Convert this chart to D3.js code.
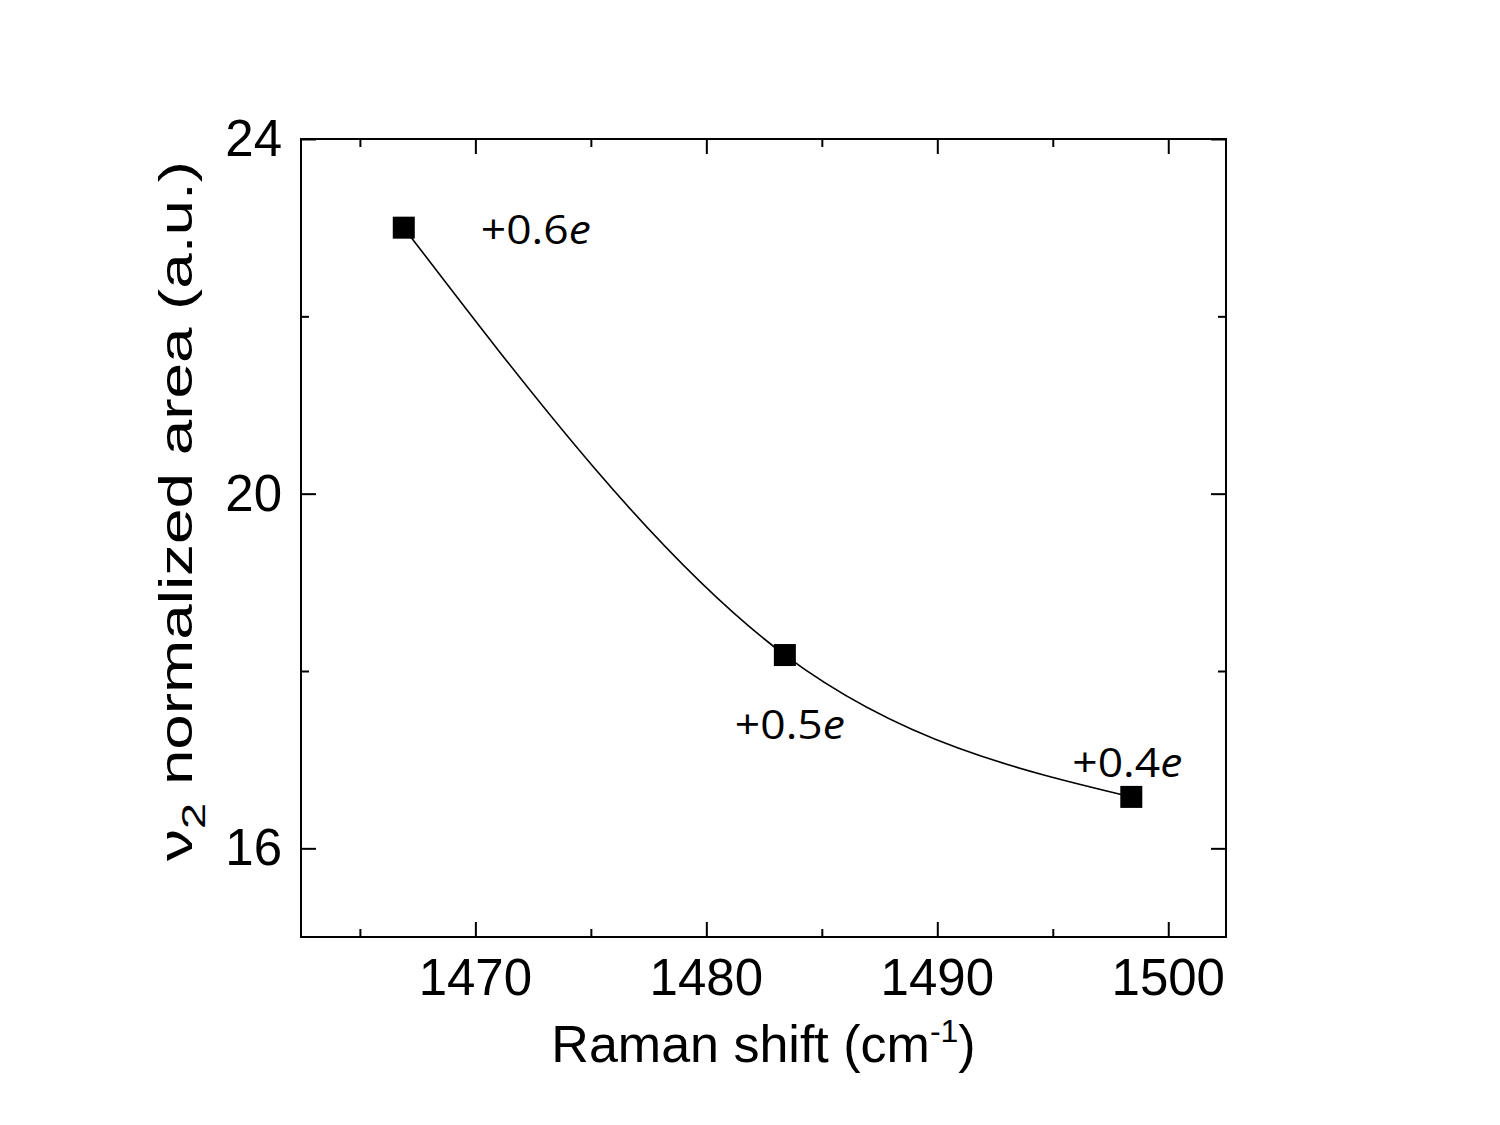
<!DOCTYPE html>
<html>
<head>
<meta charset="utf-8">
<script src="https://cdn.jsdelivr.net/npm/d3@7"></script>
<style>
  body { margin: 0; background: #fff; }
</style>
</head>
<body>
<div id="chart"></div>
<script>
// data
var shift = [1466.9, 1483.4, 1498.4];
var area = [23.0, 18.18, 16.58];
var charge = ["+0.6", "+0.5", "+0.4"];
var xMajor = [1470, 1480, 1490, 1500];
var xMinor = [1465, 1475, 1485, 1495];
var yMajor = [16, 20, 24];
var yMinor = [18, 22];

var margin = {top: 139, right: 274, bottom: 188, left: 301},
    width = 1500 - margin.left - margin.right,
    height = 1125 - margin.top - margin.bottom;

var font = "'Liberation Sans', Arial, sans-serif";

var svg = d3.select("#chart").append("svg")
    .attr("width", 1500)
    .attr("height", 1125)
  .append("g")
    .attr("transform", "translate(" + margin.left + "," + margin.top + ")");

var x = d3.scaleLinear().domain([1462.45, 1502.5]).range([0, width]);
var y = d3.scaleLinear().domain([15, 24]).range([height, 0]);

// inward ticks on all four sides
function side(g, axisFn, scale, major, minor) {
  g.call(axisFn(scale).tickValues(major).tickSize(15).tickFormat(""));
  g.append("g").call(axisFn(scale).tickValues(minor).tickSize(8).tickFormat(""));
  g.selectAll(".domain").remove();
  g.selectAll(".tick line").attr("stroke", "#000").attr("stroke-width", 2);
}

side(svg.append("g").attr("transform", "translate(0," + height + ")"), d3.axisTop, x, xMajor, xMinor);
side(svg.append("g"), d3.axisBottom, x, xMajor, xMinor);
side(svg.append("g"), d3.axisRight, y, yMajor, yMinor);
side(svg.append("g").attr("transform", "translate(" + width + ",0)"), d3.axisLeft, y, yMajor, yMinor);

// tick labels
svg.append("g").selectAll("text").data(xMajor).enter().append("text")
    .attr("x", d => x(d)).attr("y", height + 58)
    .attr("text-anchor", "middle")
    .attr("font-family", font)
    .attr("font-size", 51)
    .attr("fill", "#000")
    .text(d => d);

svg.append("g").selectAll("text").data(yMajor).enter().append("text")
    .attr("x", -19).attr("y", d => y(d) + 17)
    .attr("text-anchor", "end")
    .attr("font-family", font)
    .attr("font-size", 51)
    .attr("fill", "#000")
    .text(d => d);

// frame
svg.append("rect")
    .attr("width", width).attr("height", height)
    .attr("fill", "none").attr("stroke", "#000").attr("stroke-width", 2);

// fit curve
var pts = shift.map((d, i) => [d, area[i]]);
svg.append("path")
    .datum(pts)
    .attr("fill", "none")
    .attr("stroke", "#000")
    .attr("stroke-width", 1.6)
    .attr("d", d3.line().x(d => x(d[0])).y(d => y(d[1])).curve(d3.curveMonotoneX));

// markers
svg.selectAll(".pt").data(pts).enter().append("rect")
    .attr("x", d => x(d[0]) - 11)
    .attr("y", d => y(d[1]) - 11)
    .attr("width", 22).attr("height", 22)
    .attr("fill", "#000");

// charge labels
var lblPos = [[77, 16], [-50, 84], [-59, -20]];
var lbl = svg.selectAll(".chg").data(pts).enter().append("text")
    .attr("x", (d, i) => x(d[0]) + lblPos[i][0])
    .attr("y", (d, i) => y(d[1]) + lblPos[i][1])
    .attr("font-family", "'Open Sans', 'Noto Sans', sans-serif")
    .attr("font-size", 41)
    .attr("textLength", 110)
    .attr("lengthAdjust", "spacingAndGlyphs");
lbl.append("tspan").text((d, i) => charge[i]);
lbl.append("tspan").attr("font-style", "italic").text("e");

// axis titles
svg.append("text")
    .attr("x", width / 2).attr("y", height + 125)
    .attr("text-anchor", "middle")
    .attr("font-family", font)
    .attr("font-size", 52)
    .html("Raman shift (cm<tspan dy='-20' font-size='32'>-1</tspan><tspan dy='20'>)</tspan>");

svg.append("text")
    .attr("transform", "translate(" + (192 - margin.left) + "," + (511 - margin.top) + ") rotate(-90)")
    .attr("text-anchor", "middle")
    .attr("font-family", font)
    .attr("font-size", 46)
    .attr("textLength", 700)
    .attr("lengthAdjust", "spacingAndGlyphs")
    .html("\u03bd<tspan dy='13' font-size='34'>2</tspan><tspan dy='-13'> normalized area (a.u.)</tspan>");
</script>
</body>
</html>
